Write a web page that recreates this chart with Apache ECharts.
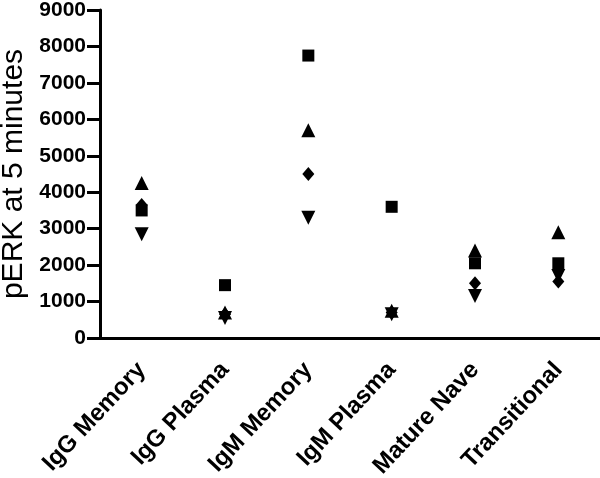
<!DOCTYPE html>
<html>
<head>
<meta charset="utf-8">
<script src="https://cdn.jsdelivr.net/npm/echarts@6/dist/echarts.min.js"></script>
<style>
  html, body { margin: 0; padding: 0; background: #fff; }
  #chart { width: 600px; height: 478px; }
</style>
</head>
<body>
<div id="chart"></div>
<script>
const categories = ["IgG Memory", "IgG Plasma", "IgM Memory", "IgM Plasma", "Mature Nave", "Transitional"];
const squareVals = [3500, 1450, 7750, 3600, 2050, 2050];
const triangleVals = [4250, 700, 5700, 750, 2400, 2900];
const diamondVals = [3650, 650, 4500, 700, 1500, 1550];
const invTriangleVals = [2850, 550, 3300, 650, 1150, 1700];

let chart = echarts.init(document.getElementById("chart"));

function makeSeries(name, values, symbol, size, rotate) {
  return {
    name: name,
    type: "scatter",
    data: values,
    symbol: symbol,
    symbolSize: size,
    symbolRotate: rotate || 0,
    itemStyle: { color: "#000", opacity: 1 },
    z: 3
  };
}

let option = {
  animation: false,
  backgroundColor: "#fff",
  grid: { left: 100, right: 0, top: 10, bottom: 140, outerBoundsMode: "none", containLabel: false },
  xAxis: {
    type: "category",
    data: categories,
    axisLine: { lineStyle: { color: "#000", width: 3 } },
    axisTick: { alignWithLabel: true, length: 14, lineStyle: { color: "#000", width: 3 } },
    axisLabel: {
      rotate: 47,
      margin: 28,
      color: "#000",
      fontFamily: "Liberation Sans",
      fontWeight: "bold",
      fontSize: 24
    }
  },
  yAxis: {
    type: "value",
    min: 0,
    max: 9000,
    interval: 1000,
    name: "pERK at 5 minutes",
    nameLocation: "middle",
    nameGap: 66,
    nameTextStyle: { color: "#000", fontFamily: "Liberation Sans", fontSize: 30 },
    splitLine: { show: false },
    axisLine: { show: true, lineStyle: { color: "#000", width: 3 } },
    axisTick: { show: true, length: 13, lineStyle: { color: "#000", width: 3 } },
    axisLabel: {
      margin: 14,
      color: "#000",
      fontFamily: "Liberation Sans",
      fontWeight: "bold",
      fontSize: 21,
      formatter: (v) => String(v)
    }
  },
  series: [
    makeSeries("square", squareVals, "rect", 12),
    makeSeries("triangle", triangleVals, "triangle", 14),
    makeSeries("diamond", diamondVals, "diamond", [12, 14]),
    makeSeries("invTriangle", invTriangleVals, "triangle", 14, 180)
  ]
};

option && chart.setOption(option);
</script>
</body>
</html>
